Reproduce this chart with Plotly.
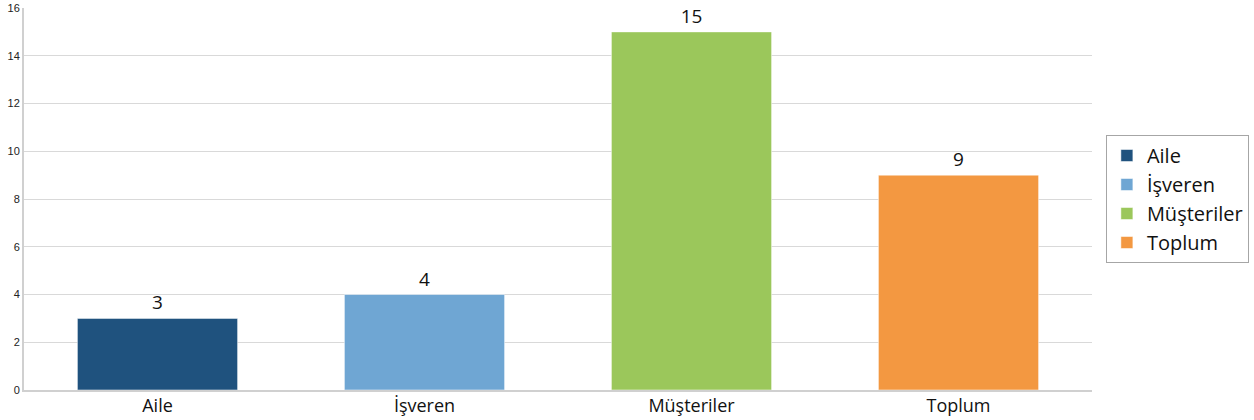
import plotly.graph_objects as go

categories = ["Aile", "İşveren", "Müşteriler", "Toplum"]
values = [3, 4, 15, 9]
colors = ["#1f527e", "#6fa6d3", "#9bc75b", "#f39841"]
y_ticks = [0, 2, 4, 6, 8, 10, 12, 14, 16]

fig = go.Figure()
for c, v, col in zip(categories, values, colors):
    fig.add_trace(go.Bar(
        x=[c], y=[v], name=c, width=0.6,
        marker=dict(color=col, line=dict(color="rgba(255,255,255,0.5)", width=1)),
        text=[str(v)], textposition="outside", cliponaxis=False,
        textfont=dict(family="Open Sans, Noto Sans", size=19, color="#111"),
    ))

fig.update_layout(
    width=1254, height=420,
    barmode="overlay",
    plot_bgcolor="white", paper_bgcolor="white",
    margin=dict(l=24, r=162, t=8, b=30, autoexpand=False),
    showlegend=True,
    legend=dict(
        x=1.013, y=0.5, xanchor="left", yanchor="middle",
        bordercolor="#a6a6a6", borderwidth=1,
        font=dict(family="Open Sans, Noto Sans", size=20, color="#111"),
        itemwidth=30, tracegroupgap=0,
    ),
    xaxis=dict(
        automargin=False,
        categoryorder="array", categoryarray=categories,
        showline=True, linecolor="#d0d0d0", linewidth=2,
        tickfont=dict(family="Open Sans, Noto Sans", size=18, color="#111"),
        ticks="", range=[-0.5, 3.5], ticklabelstandoff=-2,
    ),
    yaxis=dict(
        automargin=False,
        range=[0, 16], tickvals=y_ticks,
        showgrid=True, gridcolor="#d9d9d9", gridwidth=1,
        showline=True, linecolor="#d0d0d0", linewidth=2,
        tickfont=dict(family="Liberation Sans, Arial", size=11, color="#222"),
        ticks="", zeroline=False,
    ),
)

fig.write_html(
    "out.html",
    config={"displayModeBar": False},
    post_script="document.body.style.margin='0';document.body.style.overflow='hidden';",
)
